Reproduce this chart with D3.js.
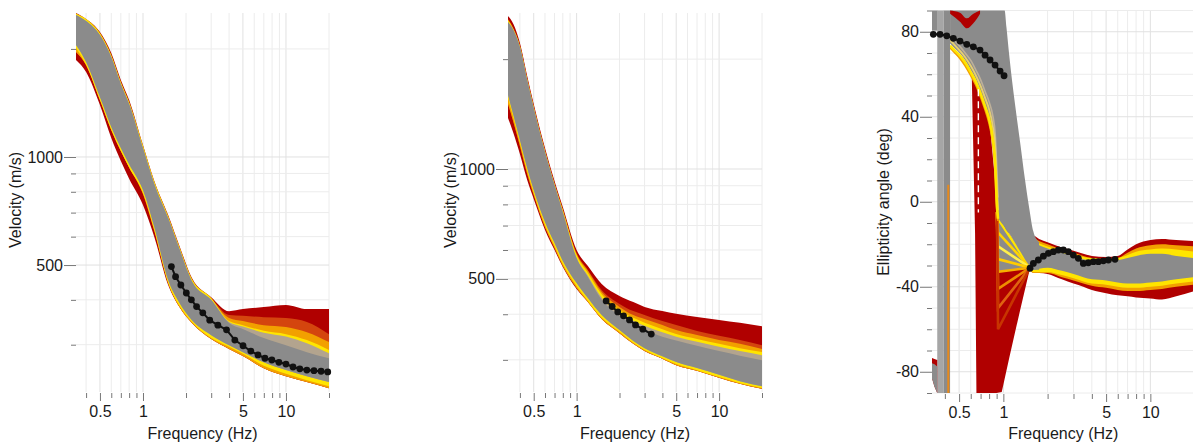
<!DOCTYPE html>
<html><head><meta charset="utf-8">
<script src="https://cdn.jsdelivr.net/npm/d3@7/dist/d3.min.js"></script>
<style>
html,body{margin:0;padding:0;background:#fff;}
svg{display:block;font-family:"Liberation Sans",Arial,Helvetica,sans-serif;}
</style></head><body>
<svg id="chart" width="1193" height="445"></svg>
<script>
// ---------------- tick values ----------------
const freqTicks = [0.4,0.5,0.6,0.7,0.8,0.9,1,2,3,4,5,6,7,8,9,10,20];
const freqLabels = [0.5,1,5,10];
const velMinorTicks = [300,400,600,700,800,900,2000];
const velLabels = [500,1000];
const ellMinorTicks = [-90,-70,-60,-50,-30,-20,-10,10,20,30,50,60,70,90];
const ellLabels = [-80,-40,0,40,80];

// ---------------- panel 1 : velocity ensemble ----------------
const velFreq1   = [0.34,0.4,0.5,0.6,0.7,0.8,1,1.2,1.5,1.8,2.2,3,4,5,7,10,14,20];
const v1RedTop   = [2518,2423,2229,1948,1639,1441,1080,857,689,565,460,407,372,377,382,387,377,377];
const v1RedBot   = [1863,1725,1396,1130,975,870,735,599,440,382,345,311,292,279,258,245,236,227];
const v1DarkOrTop= [2502,2407,2201,1911,1607,1414,1066,846,681,558,454,405,363,361,358,356,347,321];
const v1OrTop    = [2502,2407,2201,1911,1607,1414,1066,846,681,558,454,402,356,349,340,336,325,305];
const v1OrBot    = [1961,1804,1441,1189,1039,935,789,622,446,382,345,311,292,279,258,245,236,227];
const v1YelTop   = [2510,2423,2215,1924,1618,1423,1077,855,685,561,457,405,349,340,328,321,309,290];
const v1YelBot   = [2012,1804,1441,1189,1039,935,794,626,446,385,347,313,296,283,262,249,239,230];
const v1TanTop   = [2486,2392,2187,1899,1597,1405,1059,841,676,554,451,400,347,337,324,316,303,284];
const v1GrayTop  = [2486,2392,2187,1899,1597,1405,1059,841,676,554,451,400,345,332,313,299,286,275];
const v1GrayBot  = [2051,1839,1469,1212,1059,955,809,638,454,392,351,319,299,286,268,255,245,236];
const obs1Freq   = [1.58,1.69,1.84,2.01,2.18,2.37,2.62,2.93,3.34,3.84,4.39,5.01,5.68,6.37,7.13,7.97,8.93,10,11.2,12.5,14.0,15.7,17.6,19.6];
const obs1Vel    = [495,464,440,418,400,383,368,351,340,330,309,298,288,281,275,272,268,265,260,257,255,254,253,252];

// ---------------- panel 2 : velocity ensemble ----------------
const velFreq2   = [0.33,0.36,0.4,0.45,0.5,0.6,0.7,0.8,1,1.2,1.5,2,2.5,3,4,5,7,10,14,20];
const v2RedTop   = [2626,2496,2214,1798,1507,1142,927,787,600,542,484,449,432,419,408,401,393,386,379,371];
const v2DarkOrTop= [2576,2433,2186,1776,1488,1127,915,777,589,529,466,427,408,398,383,374,360,349,340,329];
const v2OrTop    = [2560,2418,2173,1764,1479,1120,910,772,585,526,460,419,398,388,374,362,351,340,332,321];
const v2YelTop   = [2560,2418,2173,1764,1479,1120,910,772,581,519,454,411,391,379,364,353,342,332,323,315];
const v2TanTop   = [2528,2403,2159,1753,1469,1113,904,762,570,510,444,403,384,372,357,347,336,326,317,309];
const v2GrayTop  = [2528,2403,2159,1753,1469,1113,904,762,570,506,438,396,376,364,347,339,328,317,308,299];
const v2GrayBot  = [1595,1406,1201,1006,876,716,627,560,487,443,398,362,338,323,307,296,285,273,262,254];
const v2YelBot   = [1565,1380,1178,987,860,702,615,549,478,435,391,358,334,319,303,292,281,269,259,251];
const v2OrBot    = [1507,1345,1156,969,849,693,608,542,472,432,388,355,332,317,302,290,280,268,258,250];
const v2RedBot   = [1380,1255,1099,933,828,681,600,539,469,432,388,355,332,317,302,290,280,268,258,250];
const obs2Freq   = [1.611,1.776,1.944,2.133,2.350,2.591,2.916,3.342];
const obs2Vel    = [435,420,406,396,386,374,364,353];

// ---------------- panel 3 : ellipticity angle ensemble ----------------
const ellBlobFreq    = [0.327,0.34,0.355];
const ellBlobRedTop  = [-73.5,-74,-74.5];
const ellBlobGrayTop = [-76,-76.5,-77.5];
const ellBlobBot     = [-83,-87,-90];
const ellStripLight  = [0.355,0.392];
const ellStripDark   = [0.392,0.434];
const ellCapFreq     = [0.327,0.356];
const ellCapBot      = [80.5,80.5];
const ellStripLineFreq = 0.422;
const ellStripLineAng  = [-90,8];

const ellMainFreq = [0.434,0.47,0.507,0.55,0.6,0.65,0.7,0.75,0.8,0.85,0.88,0.9,0.92,0.95,1.0,1.02,1.05,1.1,1.2,1.3,1.4,1.5,1.6,1.75];
const ellMainTop  = [90,90,90,90,90,90,90,90,90,90,90,90,90,90,90,90,82,68,46,28,11,-3,-14,-19];
const ellMainBot  = [74.5,72,69.8,66.5,62,57.5,52,46,40,30,19,2,-7,-9,-11,-12,-13.5,-15,-19.3,-23.3,-27,-30,-32,-32];
const ellEdgeFreq = [0.434,0.47,0.507,0.55,0.6,0.65,0.7,0.75,0.8,0.85,0.88,0.9,0.92];
const ellEdgeYel  = [73.5,71,68.8,65.5,61,56.5,51,45,39,29,18,1,-8];
const ellEdgeOra  = [72.5,70,67.5,64,59.5,55,49.5,43.5,37,27,15,-2,-9];
const ellStreak1  = [76,73.5,71,68,64,59.5,54.5,49,43.5,35,26,10,-4];
const ellStreak2  = [78,75.5,73,70,66.5,62,57.5,52,47,40,32,18,2];

const ellWedgeFreq = [0.61,0.642,0.656,0.7,0.8,0.9,0.975,1.1,1.3,1.52];
const ellWedgeTop  = [60,57,56,52,40,2,-8,-15,-23.3,-31];
const ellWedgeBot  = [58,-15,-90,-90,-90,-90,-89.5,-73,-51,-31];

const ellTriFreq = [0.92,1.52];
const ellTriTop  = [-8,-31];
const ellTriBot  = [-33,-31];
const ellFanStart = [-8,-14.5,-21,-27,-33,-41,-50,-60];
const ellFanColors = ['#ffe600','#ffd400','#fff04a','#ffcc00','#f7b000','#ee8c00','#df6210','#c83400'];
const ellFanFreq = [0.905,0.92,1.52];
const ellFanEnd = -31;

const ellUFreq = [0.434,0.507,0.564,0.625,0.694];
const ellUTop  = [90,89,86.3,88.5,90];
const ellUBot  = [88.5,84.7,81.6,84,88.5];
const ellDashFreq = 0.676;
const ellDashAng  = [53,-5];

const ellHbFreq    = [1.52,1.6,1.75,2,2.5,3,3.5,4,5,6,7,8,10,12,15,20];
const ellHbRedTop  = [-16,-16,-17.5,-19,-21.5,-23,-24.5,-25.5,-26,-25.5,-22.5,-20,-18,-17.5,-18,-18.5];
const ellHbRedBot  = [-31,-33.5,-33.5,-34,-36.5,-38.5,-40,-41.5,-43,-44,-44.5,-45,-45.5,-46,-44.5,-42];
const ellHbOrTop   = [-17,-17,-18.5,-20,-22.5,-24,-25.5,-26.5,-27,-26.5,-24,-22,-20.5,-20,-20.5,-21];
const ellHbOrBot   = [-32.5,-33.5,-33.5,-33.5,-35.5,-37,-38.5,-39.5,-40.5,-41.5,-42,-42,-41.5,-41,-40,-39];
const ellHbYelTop  = [-18,-18,-19.5,-21,-23,-24.5,-26,-26.5,-27,-26.5,-25,-23.5,-22.5,-22,-22.5,-23.5];
const ellHbYelBot  = [-32,-33,-33,-33,-34.5,-36,-37.5,-38.5,-39,-40,-40.5,-40.5,-40,-39.5,-38.5,-37.5];
const ellHbGrayTop = [-19,-19,-20.5,-22,-24,-25.5,-27,-27.5,-28,-27.5,-26.5,-25.5,-24.5,-24.5,-25.5,-26.5];
const ellHbGrayBot = [-31,-32,-31.5,-31,-32.5,-34,-35.5,-36.5,-37,-38,-38.5,-38.5,-38,-37.5,-36.5,-35.5];

const obs3aFreq = [0.334,0.371,0.412,0.457,0.507,0.564,0.625,0.694,0.751,0.812,0.878,0.950,1.011];
const obs3aAng  = [78.8,78.8,78.1,76.9,75.6,74.1,72.9,71.4,69.0,66.7,64.3,61.5,59.3];
const obs3bFreq = [1.519,1.600,1.73,1.872,2.024,2.189,2.367,2.559,2.768,2.994,3.237,3.501,3.786,4.094,4.43,4.789,5.18,5.75];
const obs3bAng  = [-31.3,-29.0,-27.4,-25.6,-24.3,-23.5,-22.7,-22.7,-23.5,-25.1,-26.6,-29.0,-28.7,-28.2,-28.2,-27.8,-27.4,-27.1];

// ---------------- drawing ----------------
const C = {red:'#b00000', dor:'#d4450e', ora:'#f2a000', yel:'#ffe500', tan:'#b3a48e', gray:'#8b8b8b', grayL:'#a6a6a6'};
const svg = d3.select('#chart');
const FS = 16;

function band(g, sx, sy, f, lo, hi, fill, curve){
  const data = f.map((d,i)=>({f:d, lo:lo[i], hi:hi[i]}));
  g.append('path').datum(data)
    .attr('d', d3.area().x(d=>sx(d.f)).y0(d=>sy(d.lo)).y1(d=>sy(d.hi)).curve(curve||d3.curveMonotoneX))
    .attr('fill', fill);
}
function polyline(g, sx, sy, f, v, stroke, w, curve, dash){
  const data = f.map((d,i)=>({f:d, v:v[i]}));
  const p = g.append('path').datum(data)
    .attr('d', d3.line().x(d=>sx(d.f)).y(d=>sy(d.v)).curve(curve||d3.curveLinear))
    .attr('fill','none').attr('stroke', stroke).attr('stroke-width', w);
  if (dash) p.attr('stroke-dasharray', dash);
}
function dots(g, sx, sy, f, v){
  polyline(g, sx, sy, f, v, '#111', 2);
  g.append('g').selectAll('circle').data(f.map((d,i)=>({f:d,v:v[i]}))).join('circle')
    .attr('cx', d=>sx(d.f)).attr('cy', d=>sy(d.v)).attr('r', 3.4).attr('fill','#111');
}

function frame(sx, sy, yMinor, yMajor, yTitle, titleBaseX, titleCY){
  const g = svg.append('g');
  const [xa, xb] = sx.range();
  const [ya, yb] = sy.range();
  g.append('g').selectAll('line').data(freqTicks).join('line')
    .attr('x1', d=>sx(d)).attr('x2', d=>sx(d)).attr('y1', yb).attr('y2', ya)
    .attr('stroke', d=>freqLabels.includes(d)?'#e1e1e1':'#ececec').attr('stroke-width',1);
  g.append('g').selectAll('line').data(yMinor.concat(yMajor)).join('line')
    .attr('y1', d=>sy(d)).attr('y2', d=>sy(d)).attr('x1', xa).attr('x2', xb)
    .attr('stroke', d=>yMajor.includes(d)?'#e1e1e1':'#ececec').attr('stroke-width',1);
  const minorX = freqTicks.filter(d=>!freqLabels.includes(d));
  const axBase = ya + 1;
  const gx1 = g.append('g').attr('transform',`translate(0,${axBase})`)
    .call(d3.axisBottom(sx).tickValues(minorX).tickSize(5).tickFormat(''));
  const gx2 = g.append('g').attr('transform',`translate(0,${axBase})`)
    .call(d3.axisBottom(sx).tickValues(freqLabels).tickSize(8).tickPadding(5).tickFormat(d=>String(d)));
  const gy1 = g.append('g').attr('transform',`translate(${xa},0)`)
    .call(d3.axisLeft(sy).tickValues(yMinor).tickSize(5).tickFormat(''));
  const gy2 = g.append('g').attr('transform',`translate(${xa},0)`)
    .call(d3.axisLeft(sy).tickValues(yMajor).tickSize(12).tickPadding(1).tickFormat(d=>String(d)));
  [gx1,gx2,gy1,gy2].forEach(a=>{
    a.select('.domain').remove();
    a.selectAll('line').attr('stroke','#777');
    a.selectAll('text').attr('fill','#1a1a1a').style('font-size', FS+'px')
      .style('font-family','"Liberation Sans",Arial,sans-serif');
  });
  g.append('text').attr('x', (xa + sx(20))/2).attr('y', 439).attr('text-anchor','middle')
    .attr('fill','#1a1a1a').style('font-size', FS+'px').text('Frequency (Hz)');
  g.append('text').attr('transform',`translate(${titleBaseX},${titleCY}) rotate(-90)`)
    .attr('text-anchor','middle').attr('fill','#1a1a1a').style('font-size', FS+'px').text(yTitle);
  return g;
}

// ---- panel 1
const x1 = d3.scaleLog().domain([0.34,20]).range([76,329]);
const y1 = d3.scaleLog().domain([221.5,2518]).range([392,13]);
frame(x1, y1, velMinorTicks, velLabels, 'Velocity (m/s)', 21, 200);
const g1 = svg.append('g');
band(g1,x1,y1,velFreq1,v1RedBot,v1RedTop,C.red);
band(g1,x1,y1,velFreq1,v1OrBot,v1DarkOrTop,C.dor);
band(g1,x1,y1,velFreq1,v1OrBot,v1OrTop,C.ora);
band(g1,x1,y1,velFreq1,v1YelBot,v1YelTop,C.yel);
band(g1,x1,y1,velFreq1,v1GrayBot,v1TanTop,C.tan);
band(g1,x1,y1,velFreq1,v1GrayBot,v1GrayTop,C.gray);
dots(g1,x1,y1,obs1Freq,obs1Vel);

// ---- panel 2
const x2 = d3.scaleLog().domain([0.33,20]).range([508,762]);
const y2 = d3.scaleLog().domain([244.9,2676]).range([392,13]);
frame(x2, y2, velMinorTicks, velLabels, 'Velocity (m/s)', 456, 200);
const g2 = svg.append('g');
band(g2,x2,y2,velFreq2,v2RedBot,v2RedTop,C.red);
band(g2,x2,y2,velFreq2,v2OrBot,v2DarkOrTop,C.dor);
band(g2,x2,y2,velFreq2,v2OrBot,v2OrTop,C.ora);
band(g2,x2,y2,velFreq2,v2YelBot,v2YelTop,C.yel);
band(g2,x2,y2,velFreq2,v2GrayBot,v2TanTop,C.tan);
band(g2,x2,y2,velFreq2,v2GrayBot,v2GrayTop,C.gray);
dots(g2,x2,y2,obs2Freq,obs2Vel);

// ---- panel 3
const x3 = d3.scaleLog().domain([0.327,20]).range([932,1194.6]);
const y3 = d3.scaleLinear().domain([-90,90]).range([393,10.5]);
frame(x3, y3, ellMinorTicks, ellLabels, 'Ellipticity angle (deg)', 889, 202);
const g3 = svg.append('g');
const lin = d3.curveLinear;
band(g3,x3,y3,ellWedgeFreq,ellWedgeBot,ellWedgeTop,C.red,lin);
band(g3,x3,y3,ellHbFreq,ellHbRedBot,ellHbRedTop,C.red);
band(g3,x3,y3,ellHbFreq,ellHbOrBot,ellHbOrTop,C.ora);
band(g3,x3,y3,ellHbFreq,ellHbYelBot,ellHbYelTop,C.yel);
band(g3,x3,y3,ellTriFreq,ellTriBot,ellTriTop,C.gray,lin);
ellFanStart.forEach((a,i)=>{
  polyline(g3,x3,y3,ellFanFreq,[-5,a,ellFanEnd],ellFanColors[i],2.6);
});
band(g3,x3,y3,ellMainFreq,ellMainBot,ellMainTop,C.gray);
polyline(g3,x3,y3,ellEdgeFreq,ellStreak2,'#bdb09a',1.6,d3.curveMonotoneX);
polyline(g3,x3,y3,ellEdgeFreq,ellStreak1,'#e6cf72',1.8,d3.curveMonotoneX);
polyline(g3,x3,y3,ellEdgeFreq,ellEdgeOra,C.ora,2,d3.curveMonotoneX);
polyline(g3,x3,y3,ellEdgeFreq,ellEdgeYel,C.yel,2.6,d3.curveMonotoneX);
band(g3,x3,y3,ellUFreq,ellUBot,ellUTop,C.red);
polyline(g3,x3,y3,[ellDashFreq,ellDashFreq],ellDashAng,'#ffffff',1.4,lin,'7,5');
band(g3,x3,y3,ellHbFreq,ellHbGrayBot,ellHbGrayTop,C.gray);
band(g3,x3,y3,ellStripLight,[-90,-90],[90,90],C.grayL,lin);
band(g3,x3,y3,ellStripDark,[-90,-90],[90,90],C.gray,lin);
band(g3,x3,y3,ellCapFreq,ellCapBot,[90,90],C.gray,lin);
polyline(g3,x3,y3,[ellStripLineFreq,ellStripLineFreq],ellStripLineAng,'#e8891a',2);
band(g3,x3,y3,ellBlobFreq,ellBlobBot,ellBlobRedTop,C.red,lin);
band(g3,x3,y3,ellBlobFreq,ellBlobBot,ellBlobGrayTop,C.gray,lin);
dots(g3,x3,y3,obs3aFreq,obs3aAng);
dots(g3,x3,y3,obs3bFreq,obs3bAng);
</script>
</body></html>
